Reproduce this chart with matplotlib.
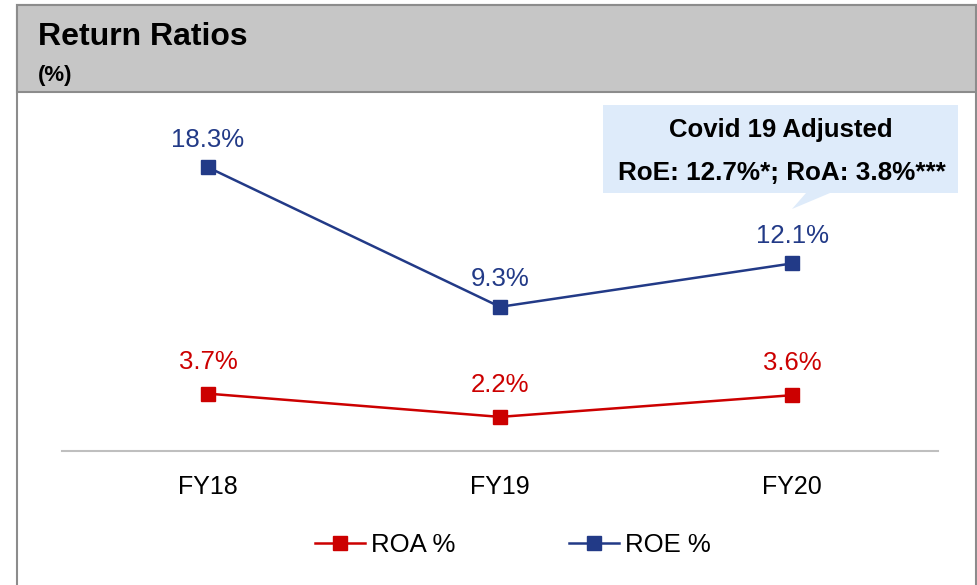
import matplotlib
matplotlib.use("Agg")
import matplotlib.pyplot as plt
from matplotlib.patches import Rectangle, Polygon
from matplotlib.lines import Line2D

plt.rcParams['font.family'] = ['Liberation Sans', 'DejaVu Sans']

# data
years = ["FY18", "FY19", "FY20"]
roa = [3.7, 2.2, 3.6]
roe = [18.3, 9.3, 12.1]
title = "Return Ratios"
unit = "(%)"
note_head = "Covid 19 Adjusted"
note_body = "RoE: 12.7%*; RoA: 3.8%***"

RED = "#CC0000"
NAVY = "#223A87"

W, H = 978, 585


def px(x, y):
    """pixel (from top-left) -> figure fraction"""
    return x / W, 1 - y / H


fig = plt.figure(figsize=(W / 100, H / 100), dpi=100)

# outer frame and grey header band
fig.patches.append(Rectangle(px(17, 600), 959 / W, 595 / H, transform=fig.transFigure,
                             facecolor="white", edgecolor="#8C8C8C", lw=1.5, zorder=0))
fig.patches.append(Rectangle(px(17, 92), 959 / W, 87 / H, transform=fig.transFigure,
                             facecolor="#C6C6C6", edgecolor="#8C8C8C", lw=1.5, zorder=1))
fig.text(*px(38, 37), title, fontsize=23, fontweight="bold", va="center", ha="left")
fig.text(*px(38, 75), unit, fontsize=16, fontweight="bold", va="center", ha="left")

# chart area
x0, x1, ybot, ytop = 62, 938, 451, 110
ax = fig.add_axes([x0 / W, 1 - ybot / H, (x1 - x0) / W, (ybot - ytop) / H], zorder=5)
ax.set_facecolor("none")
xs = list(range(len(years)))
ax.plot(xs, roa, color=RED, lw=1.8, marker="s", ms=10.5, label="ROA %", zorder=3)
ax.plot(xs, roe, color=NAVY, lw=1.8, marker="s", ms=10.5, label="ROE %", zorder=3)

for x, v in zip(xs, roa):
    ax.annotate(f"{v}%", (x, v), xytext=(0, 23), textcoords="offset points",
                ha="center", va="center", fontsize=18.5, color=RED)
for x, v in zip(xs, roe):
    ax.annotate(f"{v}%", (x, v), xytext=(0, 20), textcoords="offset points",
                ha="center", va="center", fontsize=18.5, color=NAVY)

ax.set_xlim(-0.5, 2.5)
ax.set_ylim(0, 22)
ax.set_xticks(xs)
ax.set_xticklabels(years, fontsize=18)
ax.tick_params(axis="x", length=0, pad=17)
ax.set_yticks([])
for s in ["top", "left", "right"]:
    ax.spines[s].set_visible(False)
ax.spines["bottom"].set_color("#BFBFBF")
ax.spines["bottom"].set_linewidth(1.5)

# legend
handles = [Line2D([], [], color=RED, lw=1.8, marker="s", ms=10.5),
           Line2D([], [], color=NAVY, lw=1.8, marker="s", ms=10.5)]
fig.legend(handles, ["ROA %", "ROE %"], loc="center", bbox_to_anchor=px(513, 545),
           ncol=2, frameon=False, fontsize=18.5, handlelength=1.95, handletextpad=0.25,
           columnspacing=4.4)

# callout box
pts = [(603, 105), (958, 105), (958, 193), (830, 193), (792, 209), (806, 193), (603, 193)]
fig.patches.append(Polygon([px(*p) for p in pts], closed=True, transform=fig.transFigure,
                           facecolor="#DEEBFA", edgecolor="none", zorder=2))
fig.text(*px(781, 130), note_head, fontsize=18.5, fontweight="bold", ha="center", va="center")
fig.text(*px(782, 173), note_body, fontsize=18.8, fontweight="bold", ha="center", va="center")

fig.savefig("out.png", dpi=100)
